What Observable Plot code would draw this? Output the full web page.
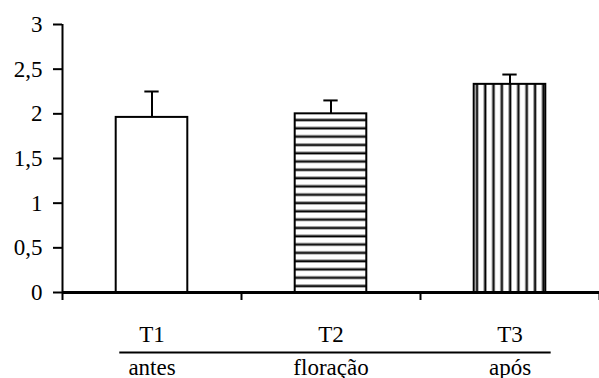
<!DOCTYPE html>
<html><head><meta charset="utf-8">
<script src="https://cdn.jsdelivr.net/npm/d3@7"></script>
<script src="https://cdn.jsdelivr.net/npm/@observablehq/plot@0.6"></script>
<style>body{margin:0;background:#fff}svg{display:block;overflow:visible}svg text{font-family:"Liberation Serif","Times New Roman",serif !important}</style>
</head><body><div id="chart"></div>
<script>
const codes = ["T1", "T2", "T3"];
const stages = ["antes", "floração", "após"];
const means = [1.96, 2.00, 2.33];
const errors = [0.29, 0.15, 0.11];
const fills = ["white", "url(#hstripe)", "url(#vstripe)"];
const yTicks = [0, 0.5, 1, 1.5, 2, 2.5, 3];

const data = codes.map((c, i) => ({i, code: c, stage: stages[i], mean: means[i], err: errors[i], fill: fills[i]}));
const fmt = d => String(d).replace(".", ",");
const font = "Liberation Serif";

const plot = Plot.plot({
  width: 599, height: 378,
  marginLeft: 62, marginRight: 0, marginTop: 24, marginBottom: 86,
  style: {fontFamily: font, fontSize: "23px", color: "black", background: "white"},
  x: {domain: [0, codes.length], axis: null, label: null},
  y: {domain: [0, 3], axis: null, label: null},
  marks: [
    ...data.map(d => Plot.rectY([d], {x1: r => r.i + 0.3, x2: r => r.i + 0.7, y1: 0, y2: "mean", fill: d.fill, stroke: "black", strokeWidth: 2})),
    Plot.ruleX(data, {x: d => d.i + 0.5, y1: "mean", y2: d => d.mean + d.err, stroke: "black", strokeWidth: 2}),
    Plot.ruleY(data, {y: d => d.mean + d.err, x1: d => d.i + 0.46, x2: d => d.i + 0.54, stroke: "black", strokeWidth: 2}),
    Plot.axisY({ticks: yTicks, tickFormat: fmt, tickSize: 9, tickPadding: 11, strokeWidth: 2, fontSize: 23, fontFamily: font, label: null}),
    Plot.ruleX([0], {y1: 0, y2: 3, strokeWidth: 2}),
    Plot.axisX({ticks: d3.range(codes.length + 1), tickFormat: () => "", tickSize: 8, strokeWidth: 2, label: null}),
    Plot.ruleY([0], {strokeWidth: 3}),
    Plot.axisX({ticks: data.map(d => d.i + 0.5), tickFormat: (v, k) => codes[k], tickSize: 0, tickPadding: 33, fontSize: 23, fontFamily: font, label: null}),
    Plot.axisX({ticks: data.map(d => d.i + 0.5), tickFormat: (v, k) => stages[k], tickSize: 0, tickPadding: 66, fontSize: 23, fontFamily: font, label: null}),
    Plot.ruleY([-0.672], {x1: 0.32, x2: 2.73, strokeWidth: 2})
  ]
});

const svg = d3.select(plot);
svg.selectAll("text").attr("font-family", font).style("font-family", font);
svg.selectAll("g[aria-label$='tick label']").attr("font-family", font);
const defs = svg.insert("defs", ":first-child");
const h = defs.append("pattern").attr("id", "hstripe").attr("patternUnits", "userSpaceOnUse")
  .attr("width", 8).attr("height", 8.3);
h.append("rect").attr("width", 8).attr("height", 8.3).attr("fill", "white");
h.append("rect").attr("y", 2).attr("width", 8).attr("height", 1).attr("fill", "#999");
h.append("rect").attr("y", 3).attr("width", 8).attr("height", 2).attr("fill", "black");
const v = defs.append("pattern").attr("id", "vstripe").attr("patternUnits", "userSpaceOnUse")
  .attr("width", 8.3).attr("height", 8);
v.append("rect").attr("width", 8.3).attr("height", 8).attr("fill", "white");
v.append("rect").attr("x", 2).attr("width", 1).attr("height", 8).attr("fill", "#999");
v.append("rect").attr("x", 3).attr("width", 2).attr("height", 8).attr("fill", "black");
document.getElementById("chart").appendChild(plot);
</script>
</body></html>
